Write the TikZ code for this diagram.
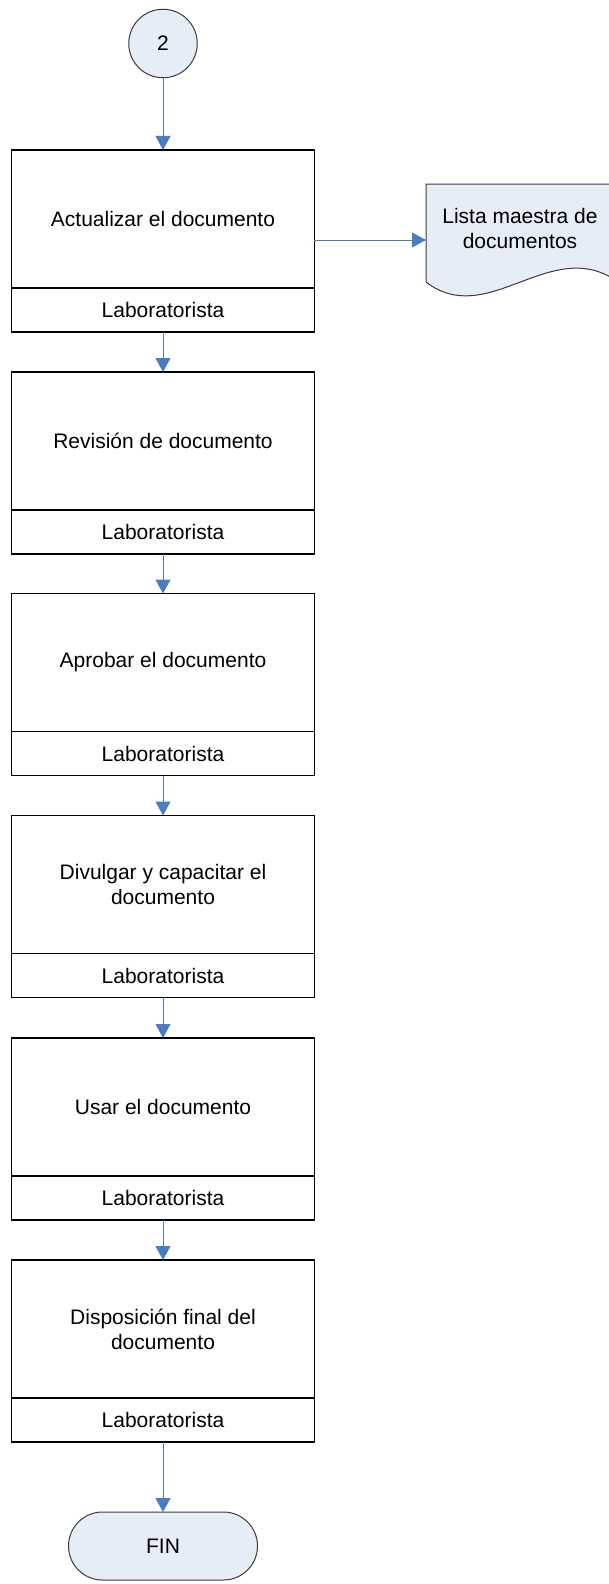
\documentclass[tikz,border=0pt]{standalone}
\usepackage{fontspec}
\setmainfont{Liberation Sans}
\usetikzlibrary{arrows.meta}
\definecolor{flow}{HTML}{4A7CC5}
\definecolor{pale}{HTML}{E7EDF7}
\definecolor{edge}{HTML}{3A3A3A}
\begin{document}
\begin{tikzpicture}[x=1pt,y=-1pt,
  every node/.style={font=\fontsize{21}{25}\selectfont, inner sep=0pt, outer sep=0pt},
  task/.style={draw=black, line width=1.3pt, minimum width=302.6pt, minimum height=138pt, align=center, anchor=north},
  role/.style={draw=black, line width=1.3pt, minimum width=302.6pt, minimum height=44pt, anchor=north},
  flowline/.style={draw=flow, line width=1pt, -{Triangle[width=15pt,length=14pt]}},
  connector/.style={circle, draw=edge, line width=1pt, fill=pale, minimum size=68.5pt},
  terminal/.style={draw=edge, line width=1pt, fill=pale, rounded corners=34pt, minimum width=189pt, minimum height=68pt},
  docshape/.style={draw=edge, line width=1pt, fill=pale}
]
\path[use as bounding box] (0,0) rectangle (609,1584);
\clip (0,0) rectangle (609,1584);

% start connector
\node[connector] (start) at (163,43.5) {2};

% process steps: task box with the responsible role below
\node[task] (t1) at (163,150) {Actualizar el documento};
\node[role] (r1) at (t1.south) {Laboratorista};
\node[task] (t2) at (163,372) {Revisión de documento};
\node[role] (r2) at (t2.south) {Laboratorista};
\node[task] (t3) at (163,593.5) {Aprobar el documento};
\node[role] (r3) at (t3.south) {Laboratorista};
\node[task] (t4) at (163,815.5) {Divulgar y capacitar el\\documento};
\node[role] (r4) at (t4.south) {Laboratorista};
\node[task] (t5) at (163,1038) {Usar el documento};
\node[role] (r5) at (t5.south) {Laboratorista};
\node[task] (t6) at (163,1260) {Disposición final del\\documento};
\node[role] (r6) at (t6.south) {Laboratorista};

% end terminator
\node[terminal] (fin) at (163,1546) {FIN};

% output document
\path[docshape] (426,184) -- (618,184) -- (618,282)
  .. controls (552,234) and (488,330) .. (426,282) -- cycle;
\coordinate (docin) at (426,240);
\node[align=center] (doc) at (520,228) {Lista maestra de\\documentos};

% flow connectors
\draw[flowline] (start) -- (t1);
\draw[flowline] (r1) -- (t2);
\draw[flowline] (r2) -- (t3);
\draw[flowline] (r3) -- (t4);
\draw[flowline] (r4) -- (t5);
\draw[flowline] (r5) -- (t6);
\draw[flowline] (r6) -- (fin);
\draw[flowline] (docin -| t1.east) -- (docin);
\end{tikzpicture}
\end{document}
